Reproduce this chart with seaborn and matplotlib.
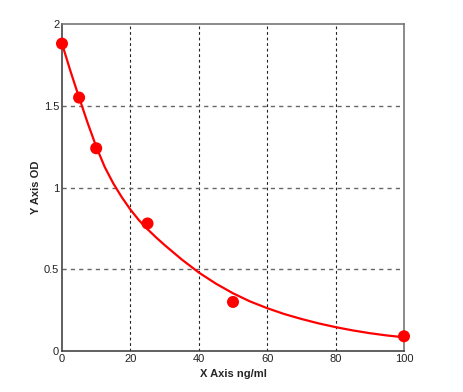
import matplotlib
matplotlib.use("Agg")
import matplotlib.pyplot as plt
import seaborn as sns
import pandas as pd

# measured standards
conc = [0, 5, 10, 25, 50, 100]
od = [1.88, 1.55, 1.24, 0.78, 0.30, 0.09]

# fitted curve
curve_x = [0, 2.5, 5, 7.5, 10, 12.5, 15, 17.5, 20, 22.5, 25, 27.5, 30, 35, 40, 45,
           50, 55, 60, 65, 70, 75, 80, 85, 90, 95, 100]
curve_y = [1.88, 1.71, 1.55, 1.395, 1.25, 1.125, 1.025, 0.94, 0.865, 0.80, 0.745,
           0.695, 0.648, 0.56, 0.48, 0.412, 0.353, 0.303, 0.262, 0.226, 0.196,
           0.169, 0.146, 0.126, 0.109, 0.095, 0.084]

x_ticks = [0, 20, 40, 60, 80, 100]
y_ticks = [0, 0.5, 1, 1.5, 2]
y_tick_labels = ["0", "0.5", "1", "1.5", "2"]

sns.set_style("white")
plt.rcParams["font.family"] = ["Liberation Sans", "DejaVu Sans"]

points = pd.DataFrame({"x": conc, "y": od})
curve = pd.DataFrame({"x": curve_x, "y": curve_y})

fig = plt.figure(figsize=(4.64, 3.92), dpi=100)
ax = fig.add_axes([62 / 464, 41 / 392, 342 / 464, 327 / 392])

# grid lines
for xv in x_ticks[1:-1]:
    ax.axvline(xv, color="#222222", lw=0.8, ls=(0, (2.5, 2.5)), zorder=0)
for yv in y_ticks[1:-1]:
    ax.axhline(yv, color="#666666", lw=1.0, ls=(0, (3, 3)), zorder=0)

sns.lineplot(data=curve, x="x", y="y", ax=ax, color="#ff0000", lw=1.6, zorder=2)
sns.scatterplot(data=points, x="x", y="y", ax=ax, color="#ff0000", s=75,
                edgecolor="none", zorder=3, clip_on=False)

ax.set_xlim(0, 100)
ax.set_ylim(0, 2)
ax.set_xticks(x_ticks)
ax.set_yticks(y_ticks)
ax.set_yticklabels(y_tick_labels)
ax.tick_params(length=0, labelsize=8, pad=2, colors="#222222")
ax.set_xlabel("X Axis ng/ml", fontsize=8, fontweight="bold", labelpad=4)
ax.set_ylabel("Y Axis OD", fontsize=8, fontweight="bold", labelpad=2)

for side in ["left", "bottom"]:
    ax.spines[side].set_color("#444444")
for side in ["top", "right"]:
    ax.spines[side].set_color("#777777")
for s in ax.spines.values():
    s.set_linewidth(1.2)

fig.savefig("out.png", dpi=100)
